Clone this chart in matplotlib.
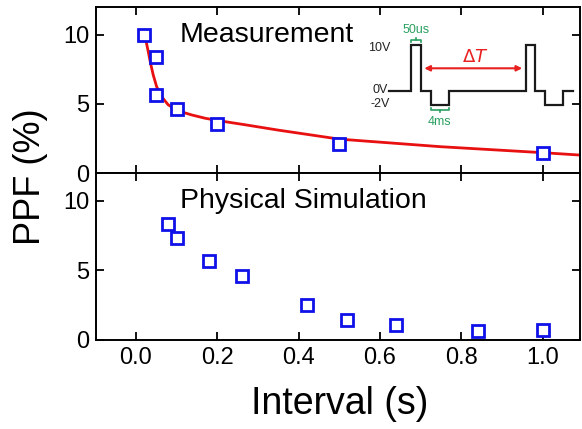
import matplotlib
matplotlib.use("Agg")
import matplotlib.pyplot as plt

plt.rcParams['font.family'] = ['Liberation Sans', 'DejaVu Sans']

# Measurement data
meas_x = [0.02, 0.05, 0.05, 0.10, 0.20, 0.50, 1.00]
meas_y = [10.0, 8.4, 5.65, 4.6, 3.55, 2.1, 1.45]
# Fitted curve
fit_x = [0.02, 0.0246, 0.0303, 0.036, 0.0426, 0.051, 0.063, 0.0795, 0.104, 0.137, 0.17,
         0.20, 0.27, 0.35, 0.50, 0.75, 1.00, 1.09]
fit_y = [9.9, 9.6, 8.8, 7.95, 7.1, 6.25, 5.53, 4.93, 4.49, 4.2, 3.96,
         3.8, 3.48, 3.1, 2.45, 1.9, 1.47, 1.3]
# Physical simulation data
sim_x = [0.08, 0.10, 0.18, 0.26, 0.42, 0.52, 0.64, 0.84, 1.00]
sim_y = [8.3, 7.3, 5.7, 4.6, 2.5, 1.45, 1.05, 0.65, 0.7]

x_ticks = [0.0, 0.2, 0.4, 0.6, 0.8, 1.0]
x_ticklabels = ['0.0', '0.2', '0.4', '0.6', '0.8', '1.0']
y_ticks = [0, 5, 10]

W, H = 582, 429
fig = plt.figure(figsize=(W/100, H/100), dpi=100)
L, R = 96/W, 580/W
t1, mid, b2 = 1-7/H, 1-173/H, 1-340/H
ax1 = fig.add_axes([L, mid, R-L, t1-mid])
ax2 = fig.add_axes([L, b2, R-L, mid-b2], sharex=ax1)

blue = '#1010e8'
ax1.plot(fit_x, fit_y, color='#e81010', lw=2.0, zorder=2)
ax1.plot(meas_x, meas_y, 's', ms=8, mfc='white', mec=blue, mew=2.0, zorder=3)
ax2.plot(sim_x, sim_y, 's', ms=8, mfc='white', mec=blue, mew=2.0, zorder=3)

for ax in (ax1, ax2):
    ax.set_xlim(-0.098, 1.092)
    ax.set_ylim(0, 12)
    ax.set_yticks(y_ticks)
    ax.set_xticks(x_ticks)
    ax.tick_params(direction='in', length=6, width=1.3, top=True, right=True,
                   labelsize=17, pad=5)
    for s in ax.spines.values():
        s.set_linewidth(1.4)
ax1.tick_params(labelbottom=False)
ax2.set_xticklabels(x_ticklabels)

ax1.text(0.108, 10.0, 'Measurement', fontsize=20.5, va='center', ha='left')
ax2.text(0.108, 10.0, 'Physical Simulation', fontsize=20.5, va='center', ha='left')

fig.text(30/W, 1-177/H, 'PPF (%)', rotation=90, fontsize=26, va='center', ha='center')
fig.text(340/W, 1-404/H, 'Interval (s)', fontsize=27, va='center', ha='center')

# Pulse schematic (decoration, pixel space)
ov = fig.add_axes([0, 0, 1, 1], zorder=10)
ov.set_xlim(0, W); ov.set_ylim(H, 0); ov.axis('off'); ov.patch.set_alpha(0)
y0, yh, yl = 90.7, 45, 105
px = [389, 410.7, 410.7, 420.7, 420.7, 430.7, 430.7, 449, 449, 525.7, 525.7, 535, 535, 545, 545, 563.3, 563.3, 573.3]
py = [y0, y0, yh, yh, y0, y0, yl, yl, y0, y0, yh, yh, y0, y0, yl, yl, y0, y0]
ov.plot(px, py, color='#1a1a1a', lw=1.6, solid_joinstyle='miter')
ov.annotate('', xy=(421.5, 68.3), xytext=(525, 68.3),
            arrowprops=dict(arrowstyle='<|-|>', color='#e82020', lw=1.5, mutation_scale=8))
ov.text(475, 58, r'$\Delta T$', color='#e82020', fontsize=13, ha='center', va='center')
ov.text(379, 48, '10V', fontsize=9, ha='center', va='center', color='#222222')
ov.text(380, 90, '0V', fontsize=9, ha='center', va='center', color='#222222')
ov.text(380, 104, '-2V', fontsize=9, ha='center', va='center', color='#222222')
green = '#2aa060'
ov.text(416, 30, '50us', fontsize=9, ha='center', va='center', color=green)
ov.plot([410.7, 410.7, 420.7, 420.7], [42, 40, 40, 42], color=green, lw=1.2)
ov.plot([415.7, 415.7], [40, 38], color=green, lw=1.2)
ov.text(440, 122, '4ms', fontsize=9, ha='center', va='center', color=green)
ov.plot([430.7, 430.7, 449, 449], [108, 110, 110, 108], color=green, lw=1.2)
ov.plot([439.8, 439.8], [110, 112], color=green, lw=1.2)

fig.savefig('out.png', dpi=100)
